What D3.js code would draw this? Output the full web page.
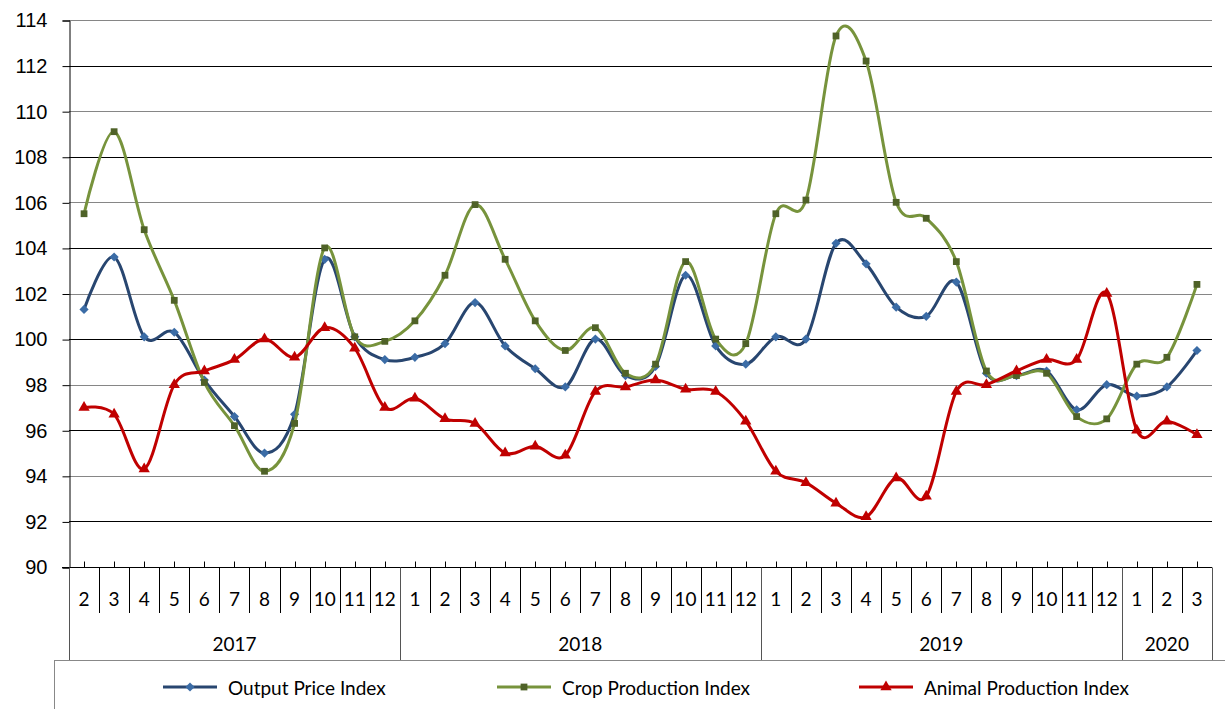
<!DOCTYPE html>
<html>
<head>
<meta charset="utf-8">
<script src="https://cdn.jsdelivr.net/npm/d3@7"></script>
<style>
  body { margin: 0; background: #fff; }
  svg { display: block; font-family: Lato, "Open Sans", sans-serif; }
</style>
</head>
<body>
<svg id="chart" width="1225" height="709"></svg>
<script>
// Categories: months grouped by year
const years = ["2017", "2018", "2019", "2020"];
const yearMonths = [
  ["2", "3", "4", "5", "6", "7", "8", "9", "10", "11", "12"],
  ["1", "2", "3", "4", "5", "6", "7", "8", "9", "10", "11", "12"],
  ["1", "2", "3", "4", "5", "6", "7", "8", "9", "10", "11", "12"],
  ["1", "2", "3"]
];

// Series values
const outputPrice = [101.3, 103.6, 100.1, 100.3, 98.2, 96.6, 95.0, 96.7, 103.5, 100.1, 99.1,
  99.2, 99.8, 101.6, 99.7, 98.7, 97.9, 100.0, 98.4, 98.8, 102.8, 99.7, 98.9,
  100.1, 100.0, 104.2, 103.3, 101.4, 101.0, 102.5, 98.5, 98.4, 98.6, 96.9, 98.0,
  97.5, 97.9, 99.5];
const cropProduction = [105.5, 109.1, 104.8, 101.7, 98.1, 96.2, 94.2, 96.3, 104.0, 100.1, 99.9,
  100.8, 102.8, 105.9, 103.5, 100.8, 99.5, 100.5, 98.5, 98.9, 103.4, 100.0, 99.8,
  105.5, 106.1, 113.3, 112.2, 106.0, 105.3, 103.4, 98.6, 98.4, 98.5, 96.6, 96.5,
  98.9, 99.2, 102.4];
const animalProduction = [97.0, 96.7, 94.3, 98.0, 98.6, 99.1, 100.0, 99.2, 100.5, 99.6, 97.0,
  97.4, 96.5, 96.3, 95.0, 95.3, 94.9, 97.7, 97.9, 98.2, 97.8, 97.7, 96.4,
  94.2, 93.7, 92.8, 92.2, 93.9, 93.1, 97.7, 98.0, 98.6, 99.1, 99.1, 102.0,
  96.0, 96.4, 95.8];

const seriesNames = ["Output Price Index", "Crop Production Index", "Animal Production Index"];
const yTicks = [90, 92, 94, 96, 98, 100, 102, 104, 106, 108, 110, 112, 114];

// layout
let margin = { top: 20, left: 69, right: 13, bottom: 142 },
    width = 1225 - margin.left - margin.right,
    height = 709 - margin.top - margin.bottom;

let svg = d3.select("#chart");

// build category keys
let categories = [];
let monthOf = [];
years.forEach(function(yr, i) {
  yearMonths[i].forEach(function(m) {
    categories.push(yr + "-" + m);
    monthOf.push(m);
  });
});

let x = d3.scaleBand()
  .domain(categories)
  .range([margin.left, margin.left + width]);

let y = d3.scaleLinear()
  .domain([90, 114])
  .range([margin.top + height, margin.top]);

let cx = function(i) { return x(categories[i]) + x.bandwidth() / 2; };

// gridlines (alternating shade like the original)
svg.append("g")
  .selectAll("line")
  .data(yTicks.filter(function(t) { return t > 90; }))
  .enter()
  .append("line")
  .attr("x1", margin.left)
  .attr("x2", margin.left + width)
  .attr("y1", function(d) { return Math.round(y(d)) + 0.5; })
  .attr("y2", function(d) { return Math.round(y(d)) + 0.5; })
  .attr("stroke", function(d) { return ((114 - d) / 2) % 2 === 0 ? "#868686" : "#000"; })
  .attr("stroke-width", 1);

// y axis
let yAxis = svg.append("g")
  .attr("transform", "translate(" + (margin.left + 0.5) + ",0.5)")
  .call(d3.axisLeft(y).tickValues(yTicks).tickSize(7).tickPadding(15).tickFormat(d3.format("d")));
yAxis.selectAll("text").style("font-size", "20px").attr("fill", "#000");
yAxis.selectAll("line").attr("stroke", "#000");
yAxis.select(".domain").attr("stroke", "#000");

// x axis line + small upward ticks at category centres
let bottomY = Math.round(y(90)) + 0.5;
svg.append("line")
  .attr("x1", margin.left - 7).attr("x2", margin.left + width)
  .attr("y1", bottomY).attr("y2", bottomY)
  .attr("stroke", "#000");

svg.append("g")
  .selectAll("line")
  .data(categories)
  .enter()
  .append("line")
  .attr("x1", function(d, i) { return Math.round(cx(i)) + 0.5; })
  .attr("x2", function(d, i) { return Math.round(cx(i)) + 0.5; })
  .attr("y1", bottomY)
  .attr("y2", bottomY - 6)
  .attr("stroke", "#000");

// month separators
let monthBottom = 613, yearBottom = 660;
let yearStarts = [];
let idx = 0;
yearMonths.forEach(function(ms) { yearStarts.push(idx); idx += ms.length; });

svg.append("g")
  .selectAll("line")
  .data(d3.range(categories.length + 1))
  .enter()
  .append("line")
  .attr("x1", function(i) { return Math.round(margin.left + i * x.step()) + 0.5; })
  .attr("x2", function(i) { return Math.round(margin.left + i * x.step()) + 0.5; })
  .attr("y1", bottomY)
  .attr("y2", function(i) {
    return (yearStarts.indexOf(i) >= 0 || i === categories.length) ? yearBottom : monthBottom;
  })
  .attr("stroke", function(i) {
    return (yearStarts.indexOf(i) >= 0 || i === categories.length) ? "#555" : "#000";
  });

// month labels
svg.append("g")
  .selectAll("text")
  .data(monthOf)
  .enter()
  .append("text")
  .attr("x", function(d, i) { return cx(i); })
  .attr("y", 598)
  .attr("text-anchor", "middle")
  .attr("dominant-baseline", "central")
  .style("font-size", "19px")
  .text(function(d) { return d; });

// year labels
svg.append("g")
  .selectAll("text")
  .data(years)
  .enter()
  .append("text")
  .attr("x", function(d, i) {
    let a = yearStarts[i], b = a + yearMonths[i].length;
    return margin.left + (a + b) / 2 * x.step();
  })
  .attr("y", 643)
  .attr("text-anchor", "middle")
  .attr("dominant-baseline", "central")
  .style("font-size", "19px")
  .text(function(d) { return d; });

// series
let series = [
  { name: seriesNames[0], values: outputPrice, line: "#284670", marker: "#3B6CA6", symbol: d3.symbolSquare, size: 42, rotate: 45 },
  { name: seriesNames[1], values: cropProduction, line: "#77933C", marker: "#4F6228", symbol: d3.symbolSquare, size: 46, rotate: 0 },
  { name: seriesNames[2], values: animalProduction, line: "#C00000", marker: "#C00000", symbol: d3.symbolTriangle, size: 55, rotate: 0 }
];

let line = d3.line()
  .x(function(d, i) { return cx(i); })
  .y(function(d) { return y(d); })
  .curve(d3.curveCardinal.tension(0));

series.forEach(function(s) {
  let g = svg.append("g");
  g.append("path")
    .datum(s.values)
    .attr("d", line)
    .attr("fill", "none")
    .attr("stroke", s.line)
    .attr("stroke-width", 3);

  g.selectAll("path.marker")
    .data(s.values)
    .enter()
    .append("path")
    .attr("class", "marker")
    .attr("d", d3.symbol().type(s.symbol).size(s.size))
    .attr("transform", function(d, i) {
      return "translate(" + cx(i) + "," + y(d) + ") rotate(" + s.rotate + ")";
    })
    .attr("fill", s.marker);
});

// legend box
svg.append("rect")
  .attr("x", 54.5)
  .attr("y", 660.5)
  .attr("width", 1180)
  .attr("height", 60)
  .attr("fill", "none")
  .attr("stroke", "#888");

let legendX = [163, 497, 859];
series.forEach(function(s, i) {
  let g = svg.append("g").attr("transform", "translate(" + legendX[i] + ",687)");
  g.append("line")
    .attr("x1", 0).attr("x2", 54)
    .attr("stroke", s.line)
    .attr("stroke-width", 3);
  g.append("path")
    .attr("d", d3.symbol().type(s.symbol).size(s.size))
    .attr("transform", "translate(27,0) rotate(" + s.rotate + ")")
    .attr("fill", s.marker);
  g.append("text")
    .attr("x", 65)
    .attr("dominant-baseline", "central")
    .style("font-size", "19px")
    .text(s.name);
});
</script>
</body>
</html>
